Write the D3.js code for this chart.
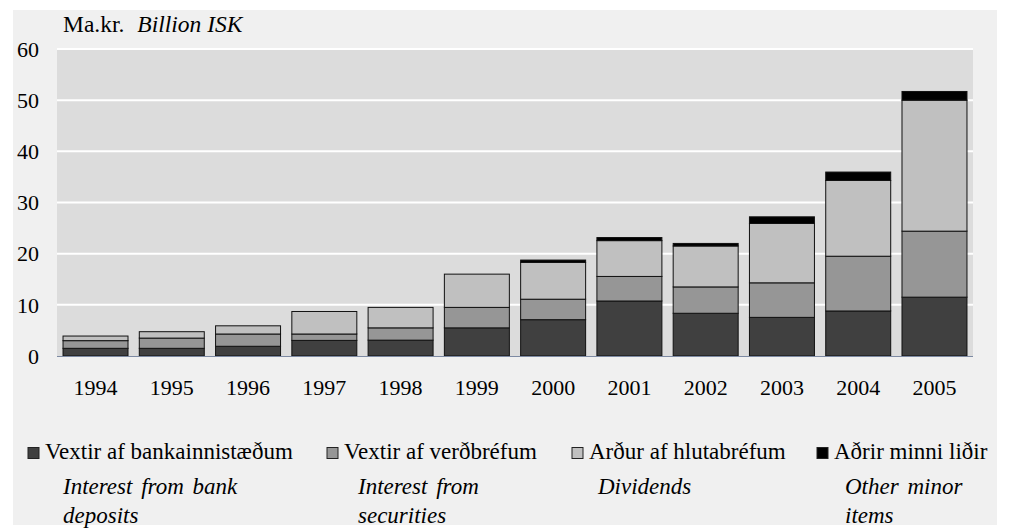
<!DOCTYPE html>
<html>
<head>
<meta charset="utf-8">
<script src="https://cdn.jsdelivr.net/npm/d3@7"></script>
<style>
  html, body { margin: 0; padding: 0; background: #ffffff; }
  svg { display: block; }
</style>
</head>
<body>
<svg id="chart" width="1013" height="528"></svg>
<script>
// Income of pension funds by source, billion ISK
const years = ["1994","1995","1996","1997","1998","1999","2000","2001","2002","2003","2004","2005"];
const deposits   = [1.5, 1.5, 1.9, 3.05, 3.1, 5.5, 7.1, 10.75, 8.35, 7.55, 8.8, 11.5];
const securities = [1.5, 2.0, 2.4, 1.25, 2.4, 4.0, 4.0, 4.8, 5.15, 6.75, 10.7, 12.9];
const dividends  = [0.9, 1.25, 1.6, 4.4, 4.0, 6.5, 7.2, 7.0, 8.0, 11.6, 14.8, 25.6];
const other      = [0, 0, 0, 0, 0, 0, 0.45, 0.6, 0.5, 1.3, 1.65, 1.7];

const seriesKeys = ["deposits", "securities", "dividends", "other"];
const seriesIs = ["Vextir af bankainnistæðum", "Vextir af verðbréfum", "Arður af hlutabréfum", "Aðrir minni liðir"];
const seriesEn = [["Interest from bank", "deposits"], ["Interest from", "securities"], ["Dividends"], ["Other minor", "items"]];
const seriesColors = ["#404040", "#969696", "#c0c0c0", "#000000"];
const yTicks = [0, 10, 20, 30, 40, 50, 60];

const FONT = "'Liberation Serif', 'Times New Roman', Tinos, serif";

const table = years.map((y, i) => ({
  year: y,
  deposits: deposits[i],
  securities: securities[i],
  dividends: dividends[i],
  other: other[i]
}));

const svg = d3.select("#chart");

// outer panel
svg.append("rect").attr("x", 13).attr("y", 10).attr("width", 984).attr("height", 515).attr("fill", "#f0f0f0");

const plot = { left: 57, right: 973, top: 49, bottom: 356 };

const x = d3.scaleBand().domain(years).range([plot.left, plot.right]).paddingInner(0.148).paddingOuter(0.079);
const y = d3.scaleLinear().domain([0, 60]).range([plot.bottom, plot.top]);
const color = d3.scaleOrdinal().domain(seriesKeys).range(seriesColors);

// plot background
svg.append("rect")
  .attr("x", plot.left).attr("y", plot.top)
  .attr("width", plot.right - plot.left).attr("height", plot.bottom - plot.top)
  .attr("fill", "#dcdcdc");

// gridlines
svg.append("g").selectAll("line").data(yTicks.filter(t => t > 0)).join("line")
  .attr("x1", plot.left).attr("x2", plot.right)
  .attr("y1", d => y(d)).attr("y2", d => y(d))
  .attr("stroke", "#ffffff").attr("stroke-width", 2);

// stacked bars
const stacked = d3.stack().keys(seriesKeys)(table);
svg.append("g").selectAll("g").data(stacked).join("g")
  .attr("fill", d => color(d.key))
  .selectAll("rect").data(d => d.filter(s => s[1] - s[0] > 0)).join("rect")
  .attr("x", d => x(d.data.year))
  .attr("width", x.bandwidth())
  .attr("y", d => y(d[1]))
  .attr("height", d => y(d[0]) - y(d[1]))
  .attr("stroke", "#111111").attr("stroke-width", 1);

// zero line
svg.append("line")
  .attr("x1", plot.left).attr("x2", plot.right)
  .attr("y1", y(0) + 0.5).attr("y2", y(0) + 0.5)
  .attr("stroke", "#7d8aa3").attr("stroke-width", 1.2);

// y axis labels
const yAxis = d3.axisLeft(y).tickValues(yTicks).tickSize(0).tickPadding(0);
const yg = svg.append("g").attr("transform", `translate(39,0)`).call(yAxis);
yg.select(".domain").remove();
yg.attr("font-family", null).attr("font-size", null);
yg.selectAll("text").style("font-family", FONT).style("font-size", "22px").attr("fill", "#000").attr("dy", "0.33em");

// x axis labels
const xAxis = d3.axisBottom(x).tickSize(0).tickPadding(0);
const xg = svg.append("g").attr("transform", `translate(0,${plot.bottom})`).call(xAxis);
xg.select(".domain").remove();
xg.attr("font-family", null).attr("font-size", null);
xg.selectAll("text").style("font-family", FONT).style("font-size", "22px").attr("fill", "#000").attr("dy", 0).attr("y", 39);

// unit title
const title = svg.append("text").attr("x", 63).attr("y", 32)
  .style("font-family", FONT).style("font-size", "23.5px");
title.append("tspan").text("Ma.kr.");
title.append("tspan").attr("dx", 13).style("font-style", "italic").text("Billion ISK");

// legend
const legendSquareX = [28, 327, 572, 817];
const legendTextX = [45, 344, 589, 834];
const legendEnX = [63, 358, 598, 845];
const legend = svg.append("g");
seriesKeys.forEach((k, i) => {
  legend.append("rect")
    .attr("x", legendSquareX[i]).attr("y", 447.5)
    .attr("width", 11).attr("height", 11)
    .attr("fill", color(k)).attr("stroke", "#222").attr("stroke-width", 1);
  legend.append("text")
    .attr("x", legendTextX[i]).attr("y", 459)
    .style("font-family", FONT).style("font-size", "23px")
    .text(seriesIs[i]);
  seriesEn[i].forEach((line, j) => {
    legend.append("text")
      .attr("x", legendEnX[i]).attr("y", 494 + j * 29)
      .style("font-family", FONT).style("font-size", "23px").style("font-style", "italic")
      .style("word-spacing", "3px")
      .text(line);
  });
});
</script>
</body>
</html>
